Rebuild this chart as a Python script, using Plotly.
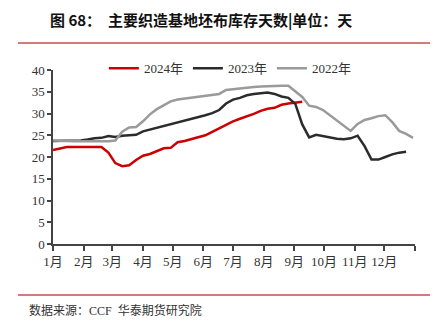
import plotly.graph_objects as go

dates = ["2024-01-01", "2024-01-08", "2024-01-15", "2024-01-22", "2024-01-29",
         "2024-02-05", "2024-02-12", "2024-02-19", "2024-02-26", "2024-03-04",
         "2024-03-11", "2024-03-18", "2024-03-25", "2024-04-01", "2024-04-08",
         "2024-04-15", "2024-04-22", "2024-04-29", "2024-05-06", "2024-05-13",
         "2024-05-20", "2024-05-27", "2024-06-03", "2024-06-10", "2024-06-17",
         "2024-06-24", "2024-07-01", "2024-07-08", "2024-07-15", "2024-07-22",
         "2024-07-29", "2024-08-05", "2024-08-12", "2024-08-19", "2024-08-26",
         "2024-09-02", "2024-09-09", "2024-09-16", "2024-09-23", "2024-09-30",
         "2024-10-07", "2024-10-14", "2024-10-21", "2024-10-28", "2024-11-04",
         "2024-11-11", "2024-11-18", "2024-11-25", "2024-12-02", "2024-12-09",
         "2024-12-16", "2024-12-23", "2024-12-30"]

y2024 = [21.6, 21.9, 22.3, 22.3, 22.3, 22.3, 22.3, 22.3, 21.0, 18.6,
         17.9, 18.1, 19.3, 20.3, 20.7, 21.3, 22.0, 22.1, 23.4, 23.7,
         24.1, 24.5, 25.0, 25.8, 26.6, 27.4, 28.2, 28.8, 29.3, 29.9,
         30.6, 31.1, 31.3, 32.0, 32.3, 32.5, 32.7]

y2023 = [23.7, 23.7, 23.7, 23.7, 23.8, 24.0, 24.3, 24.4, 24.8, 24.6,
         24.9, 25.0, 25.1, 25.9, 26.3, 26.7, 27.2, 27.6, 28.0, 28.4,
         28.8, 29.2, 29.6, 30.1, 30.8, 32.3, 33.2, 33.6, 34.2, 34.5,
         34.7, 34.8, 34.5, 33.9, 33.6, 32.2, 27.5, 24.5, 25.1, 24.8,
         24.6, 24.2, 24.1, 24.3, 24.9, 22.5, 19.4, 19.4, 20.0, 20.6,
         21.0, 21.2]

y2022 = [23.8, 23.7, 23.6, 23.6, 23.6, 23.6, 23.6, 23.6, 23.6, 23.8,
         25.8, 26.8, 26.9, 28.2, 29.8, 31.0, 31.9, 32.8, 33.2, 33.4,
         33.6, 33.8, 34.0, 34.2, 34.5, 35.4, 35.6, 35.7, 35.9, 36.1,
         36.2, 36.3, 36.4, 36.4, 36.4, 35.2, 33.8, 31.8, 31.5, 30.8,
         29.6, 28.4, 27.3, 26.0, 27.6, 28.5, 28.9, 29.4, 29.6, 28.0,
         26.0, 25.3, 24.4]

month_ticks = ["2024-01-01", "2024-02-01", "2024-03-01", "2024-04-01", "2024-05-01",
               "2024-06-01", "2024-07-01", "2024-08-01", "2024-09-01", "2024-10-01",
               "2024-11-01", "2024-12-01", "2025-01-01"]
month_labels = ["1月", "2月", "3月", "4月", "5月", "6月", "7月", "8月", "9月",
                "10月", "11月", "12月", ""]

serif = "Liberation Serif, Noto Sans CJK SC, serif"
axis_col = "#444444"

fig = go.Figure()
fig.add_trace(go.Scatter(x=dates[:len(y2024)], y=y2024, name="2024年", mode="lines",
                         line=dict(color="#cc0000", width=2.5)))
fig.add_trace(go.Scatter(x=dates[:len(y2023)], y=y2023, name="2023年", mode="lines",
                         line=dict(color="#2b2b2b", width=2.5)))
fig.add_trace(go.Scatter(x=dates[:len(y2022)], y=y2022, name="2022年", mode="lines",
                         line=dict(color="#9a9a9a", width=2.5)))

fig.update_layout(
    width=435, height=326,
    margin=dict(l=53, r=20, t=70, b=82),
    paper_bgcolor="white", plot_bgcolor="white",
    font=dict(family=serif, size=13, color="#222222"),
    showlegend=True,
    legend=dict(orientation="h", x=0.49, xanchor="center", y=1.01, yanchor="middle",
                font=dict(family=serif, size=13, color="#333333"),
                bgcolor="rgba(255,255,255,1)", itemwidth=30, tracegroupgap=0),
    xaxis=dict(type="date", range=["2024-01-01", "2025-01-01"],
               tickmode="array", tickvals=month_ticks, ticktext=month_labels,
               showline=True, linecolor=axis_col, linewidth=1.5,
               ticks="outside", ticklen=5, tickwidth=1.5, tickcolor=axis_col,
               showgrid=False, zeroline=False,
               tickfont=dict(family=serif, size=13, color="#333333")),
    yaxis=dict(range=[0, 40], dtick=5, showline=True, linecolor=axis_col, linewidth=1.5,
               ticks="outside", ticklen=4, tickwidth=1.5, tickcolor=axis_col,
               showgrid=False, zeroline=False,
               tickfont=dict(family=serif, size=13, color="#333333")),
)

fig.add_annotation(text="<b>图 68：  主要织造基地坯布库存天数|单位：天</b>",
                   xref="paper", yref="paper", x=(48 - 53) / 362, y=(244 - 20) / 174,
                   xanchor="left", yanchor="middle", showarrow=False,
                   font=dict(family="Noto Sans CJK SC", size=15, color="#111111"))
fig.add_annotation(text="数据来源：CCF  华泰期货研究院",
                   xref="paper", yref="paper", x=(27 - 53) / 362, y=(244 - 310) / 174,
                   xanchor="left", yanchor="middle", showarrow=False,
                   font=dict(family="Liberation Serif, Noto Sans CJK SC", size=12, color="#333333"))

for ypx in (43, 295):
    fig.add_shape(type="line", xref="paper", yref="paper",
                  x0=(18 - 53) / 362, x1=(430 - 53) / 362,
                  y0=(244 - ypx) / 174, y1=(244 - ypx) / 174,
                  line=dict(color="#c0504d", width=1.5))

fig.write_html("out.html")
